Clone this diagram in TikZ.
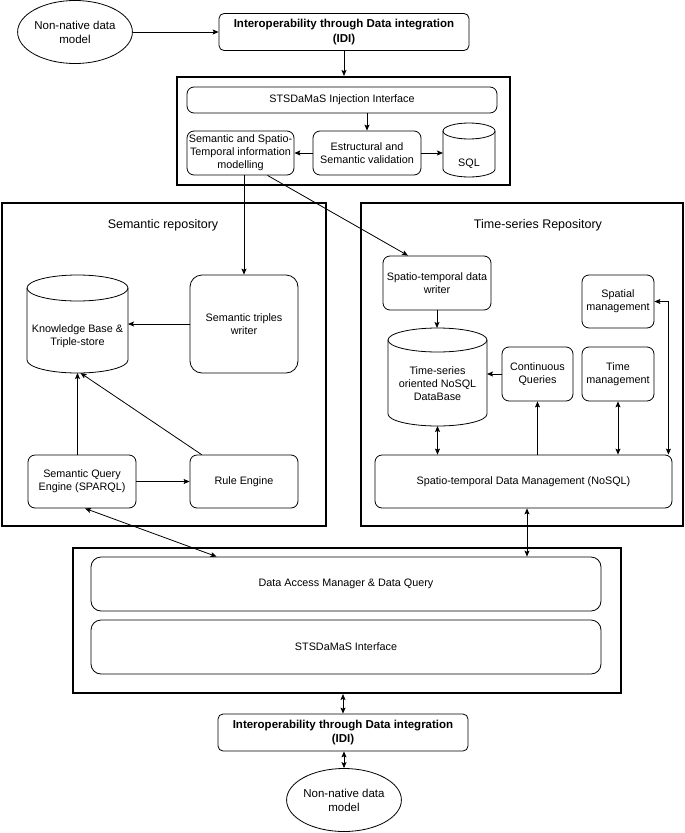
\documentclass[tikz,border=0pt]{standalone}
\usepackage{fontspec}
\setmainfont{Liberation Sans}
\usetikzlibrary{arrows.meta,shapes.geometric,calc}
\newcommand\drawcyl[3]{%
  \draw[line width=0.8pt] ($(#1.north west)+(0,#3)$) -- ($(#1.south west)+(0,-#3)$)
    arc[start angle=180,end angle=0,x radius=#2,y radius=#3] -- ($(#1.north east)+(0,#3)$);
  \draw[line width=0.8pt] ($(#1.north)+(0,#3)$) ellipse[x radius=#2,y radius=#3];}
\tikzset{
  box/.style={draw, rounded corners=7pt, line width=0.8pt, align=center, inner sep=0pt,
    font=\fontsize{10.8}{13}\selectfont},
  txt/.style={align=center, inner sep=0pt, font=\fontsize{10.8}{13}\selectfont},
  title/.style={inner sep=0pt, font=\fontsize{12.5}{15}\selectfont},
  frame/.style={draw, line width=2pt, inner sep=0pt},
  cylnode/.style={inner sep=0pt, outer sep=0pt},
  idibox/.style={draw, rounded corners=5pt, line width=0.8pt, align=center, inner sep=0pt,
    minimum width=250, minimum height=37, font=\bfseries\fontsize{11.5}{14.5}\selectfont},
  ell/.style={draw, ellipse, line width=0.8pt, align=center, inner sep=0pt,
    minimum width=106, minimum height=63, font=\fontsize{11.5}{14}\selectfont},
  arr/.style={->, line width=0.8pt},
  darr/.style={<->, line width=0.8pt},
}
\begin{document}
\begin{tikzpicture}[x=1pt,y=-1pt,>={Stealth[length=6pt,width=5pt,inset=1.2pt]}]
\useasboundingbox (0,0) rectangle (685,833);

% top
\node[ell] (ne1) at (75,32) {Non-native data\\model};
\node[idibox] (idi1) at (344,32) {Interoperability through Data integration\\(IDI)};

% injection block
\node[frame, minimum width=333, minimum height=108] (inj) at (343.5,131) {};
\node[box, minimum width=310, minimum height=26] (injif) at (342,100) {STSDaMaS Injection Interface};
\node[box, minimum width=107, minimum height=44] (semst) at (240.5,153) {Semantic and Spatio-\\Temporal information\\modelling};
\node[box, minimum width=108, minimum height=44] (estr) at (367,153) {Estructural and\\Semantic validation};
\node[cylnode, minimum width=52, minimum height=54] (sql) at (469,150) {};
\drawcyl{sql}{26}{8}
\node[txt] (sqlt) at (469,164) {SQL};

% semantic repository
\node[frame, minimum width=324, minimum height=323] (semrep) at (164,364.5) {};
\node[title] (semtitle) at (163,225) {Semantic repository};
\node[cylnode, minimum width=101, minimum height=98] (kb) at (77.5,324) {};
\drawcyl{kb}{50.5}{13}
\node[txt] (kbt) at (77.5,336) {Knowledge Base \&\\Triple-store};
\node[box, rounded corners=12pt, minimum width=108, minimum height=98] (stw) at (244,324) {Semantic triples\\writer};
\node[box, minimum width=108, minimum height=53] (sqe) at (82,481.5) {Semantic Query\\Engine (SPARQL)};
\node[box, minimum width=108, minimum height=53] (rule) at (244,481.5) {Rule Engine};

% time-series repository
\node[frame, minimum width=322, minimum height=323] (tsrep) at (522,364.5) {};
\node[title] (tstitle) at (538,225) {Time-series Repository};
\node[box, minimum width=108, minimum height=54] (stdw) at (437,283) {Spatio-temporal data\\writer};
\node[cylnode, minimum width=99, minimum height=98] (tsdb) at (437.5,377) {};
\drawcyl{tsdb}{49.5}{12}
\node[txt] (tsdbt) at (437.5,384) {Time-series\\oriented NoSQL\\DataBase};
\node[box, minimum width=71, minimum height=54] (cq) at (537.5,374) {Continuous\\Queries};
\node[box, minimum width=72, minimum height=53] (sm) at (618,301.5) {Spatial\\management};
\node[box, minimum width=72, minimum height=54] (tm) at (618,374) {Time\\management};
\node[box, minimum width=297, minimum height=53] (sdm) at (523.5,481.5) {Spatio-temporal Data Management (NoSQL)};

% bottom block
\node[frame, minimum width=548, minimum height=145] (dam) at (347,620.5) {};
\node[box, rounded corners=10pt, minimum width=510, minimum height=54] (damq) at (346,584) {Data Access Manager \& Data Query};
\node[box, rounded corners=10pt, minimum width=510, minimum height=54] (stsif) at (346,647) {STSDaMaS Interface};
\node[idibox] (idi2) at (343,732.5) {Interoperability through Data integration\\(IDI)};
\node[ell] (ne2) at (344,800) {Non-native data\\model};

% connectors
\draw[arr] (ne1.east) -- (idi1.west);
\draw[arr] (idi1.south) -- (idi1.south |- inj.north);
\draw[arr] (estr.north |- injif.south) -- (estr.north);
\draw[arr] (estr.west) -- (semst.east);
\draw[arr] (estr.east) -- (estr.east -| sql.west);
\draw[arr] (stw.north |- semst.south) -- (stw.north);
\draw[arr] ([xshift=27pt]semst.south) -- ([xshift=-29pt]stdw.north);
\draw[arr] (stw.west) -- (kb.east);
\draw[arr] (kb.south |- sqe.north) -- (kb.south);
\draw[arr] ([xshift=12pt]rule.north west) -- ([xshift=3pt]kb.south);
\draw[arr] (sqe.east) -- (rule.west);
\draw[arr] (stdw.south) -- (stdw.south |- tsdb.north);
\draw[arr] (cq.west) -- (cq.west -| tsdb.east);
\draw[darr] (tsdb.south) -- (tsdb.south |- sdm.north);
\draw[arr] (cq.south |- sdm.north) -- (cq.south);
\draw[darr] (tm.south) -- (tm.south |- sdm.north);
\draw[darr] ([xshift=-4pt]sdm.north east) |- (sm.east);
\coordinate (sdmb) at ([xshift=3.5pt]sdm.south);
\draw[darr] (sdmb) -- (sdmb |- damq.north);
\draw[darr] ([xshift=3pt]sqe.south) -- ([xshift=126pt]damq.north west);
\draw[darr] (idi2.north |- dam.south) -- (idi2.north);
\draw[darr] (ne2.north |- idi2.south) -- (ne2.north);
\end{tikzpicture}
\end{document}
